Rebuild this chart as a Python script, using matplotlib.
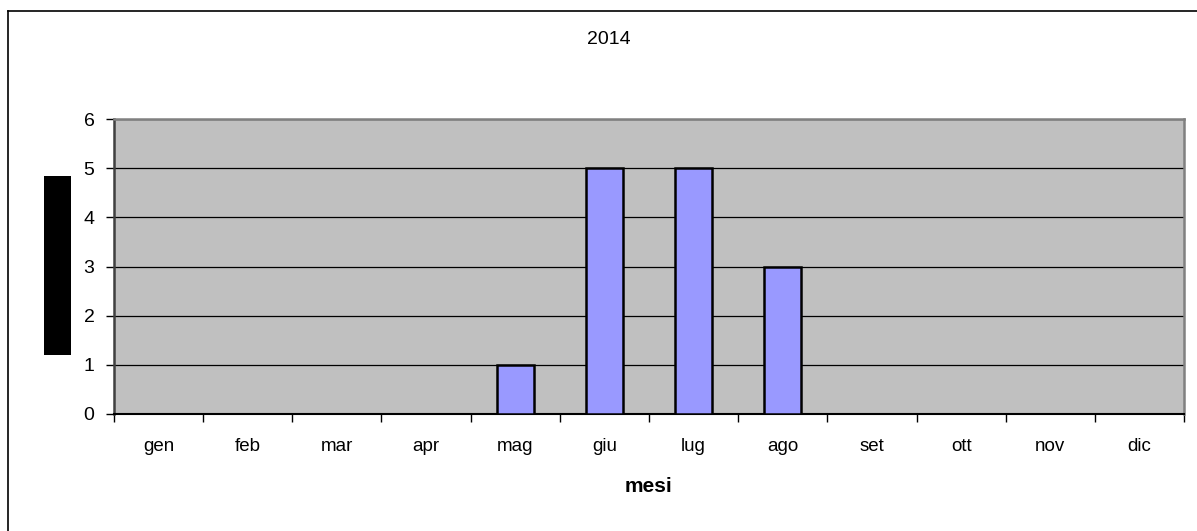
import matplotlib
matplotlib.use("Agg")
import matplotlib.pyplot as plt
from matplotlib.patches import Rectangle
from matplotlib.lines import Line2D

months = ["gen", "feb", "mar", "apr", "mag", "giu", "lug", "ago", "set", "ott", "nov", "dic"]
values = [0, 0, 0, 0, 1, 5, 5, 3, 0, 0, 0, 0]
yticks = [0, 1, 2, 3, 4, 5, 6]
title = "2014"
xlabel = "mesi"

W, H = 1197, 531
dpi = 100
plt.rcParams['font.family'] = ['Liberation Sans', 'DejaVu Sans']
fig = plt.figure(figsize=(W / dpi, H / dpi), dpi=dpi)
fig.patch.set_facecolor("white")

# plot area in pixels
left, right, top, bottom = 114, 1184, 119, 414
ax = fig.add_axes([left / W, 1 - bottom / H, (right - left) / W, (bottom - top) / H])
ax.set_facecolor("#C0C0C0")

x = list(range(len(months)))
ax.bar(x, values, width=0.42, color="#9999FF", edgecolor="black", linewidth=1.8, zorder=3)

ax.set_xlim(-0.5, len(months) - 0.5)
ax.set_ylim(0, 6)
ax.set_yticks(yticks)
ax.set_yticklabels([str(v) for v in yticks], fontsize=14)
ax.yaxis.grid(True, color="black", linewidth=0.9, zorder=1)
ax.set_axisbelow(True)

ax.set_xticks(x)
ax.set_xticklabels(months, fontsize=13.5)
ax.tick_params(axis="x", length=0, pad=17)
ax.set_xticks([i - 0.5 for i in range(len(months) + 1)], minor=True)
ax.tick_params(axis="x", which="minor", length=6, width=1, color="black", direction="out")
ax.tick_params(axis="y", length=6, width=1, color="black", direction="out", pad=8)

for side in ["top", "right"]:
    ax.spines[side].set_color("#808080")
    ax.spines[side].set_linewidth(1.8)
ax.spines["left"].set_color("#404040")
ax.spines["left"].set_linewidth(1.8)
ax.spines["bottom"].set_color("black")
ax.spines["bottom"].set_linewidth(1.5)

ax.set_xlabel(xlabel, fontsize=15, fontweight="bold", labelpad=16)

fig.text(609 / W, 1 - 40 / H, title, ha="center", va="center", fontsize=14)

# black block where the y-axis title would be
fig.patches.append(Rectangle((44 / W, 1 - 355 / H), 27 / W, 179 / H,
                             transform=fig.transFigure, facecolor="black", edgecolor="none"))

# chart outer border (top and left visible)
fig.lines.append(Line2D([8 / W, 8 / W], [0, 1 - 11 / H], transform=fig.transFigure, color="black", linewidth=1.2))
fig.lines.append(Line2D([8 / W, 1], [1 - 11 / H, 1 - 11 / H], transform=fig.transFigure, color="black", linewidth=1.2))

fig.savefig("out.png", dpi=dpi, facecolor="white")
